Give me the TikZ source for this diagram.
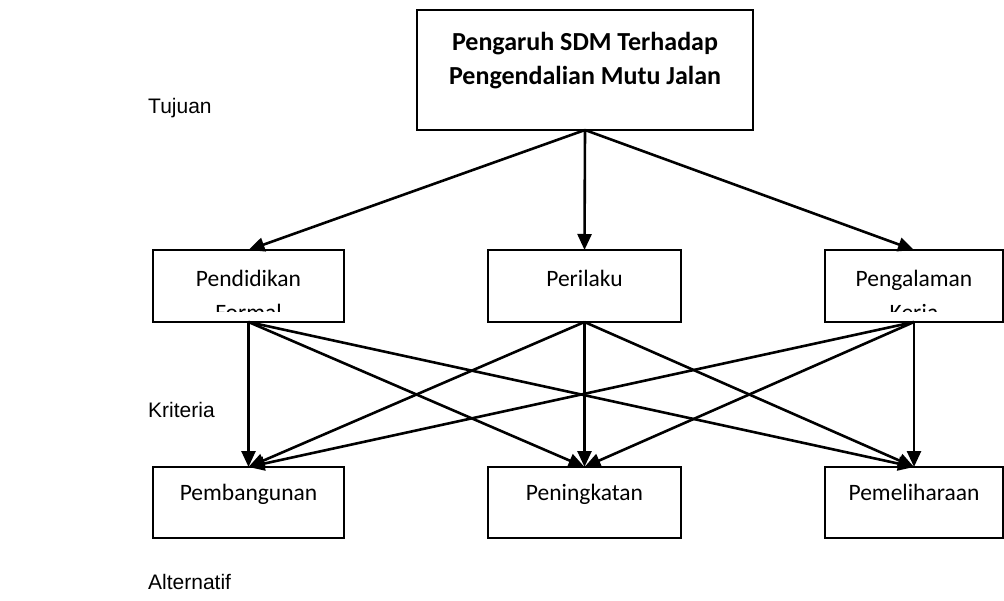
\documentclass[tikz,border=0pt]{standalone}
\usepackage{fontspec}
\setmainfont{Carlito}
\newfontfamily\arialfont{Liberation Sans}
\usetikzlibrary{arrows.meta}
\begin{document}
\begin{tikzpicture}[x=1pt,y=-1pt,
  box/.style={draw,line width=1.8pt,inner sep=0pt,outer sep=0pt,anchor=north west},
  boxtext/.style={font=\fontsize{23.5}{34}\selectfont,inner sep=0pt,align=center},
  arr/.style={line width=2.6pt,-{Triangle[length=16pt,width=14pt]}},
  side/.style={font=\arialfont\fontsize{21}{25}\selectfont,anchor=west,inner sep=0pt}]
\useasboundingbox (0,0) rectangle (1004,601);
% boxes
\node[box,minimum width=336pt,minimum height=120pt] (top) at (417,10) {};
\node[box,minimum width=191pt,minimum height=72pt] (pend) at (153,250) {};
\node[box,minimum width=193pt,minimum height=72pt] (peri) at (488,250) {};
\node[box,minimum width=178pt,minimum height=72pt] (peng) at (825,250) {};
\node[box,minimum width=191pt,minimum height=71pt] (pemb) at (153,467) {};
\node[box,minimum width=193pt,minimum height=71pt] (pent) at (488,467) {};
\node[box,minimum width=178pt,minimum height=71pt] (peme) at (825,467) {};
% texts
\node[boxtext,font=\bfseries\fontsize{26}{34}\selectfont] (toptxt) at (585,61) {Pengaruh SDM Terhadap\\Pengendalian Mutu Jalan};
\begin{scope}
\clip (150,250) rectangle (1004,312);
\node[boxtext,anchor=north] (pendtxt) at (248.5,270) {Pendidikan\\Formal};
\node[boxtext,anchor=north] (pengtxt) at (914,270) {Pengalaman\\Kerja};
\end{scope}
\node[boxtext,anchor=north] (peritxt) at (584.5,270) {Perilaku};
\node[boxtext,anchor=north] (pembtxt) at (248.5,484) {Pembangunan};
\node[boxtext,anchor=north] (pentxt) at (584.5,484) {Peningkatan};
\node[boxtext,anchor=north] (pemetxt) at (914,484) {Pemeliharaan};
% side labels
\node[side] (tujuan) at (148,108) {Tujuan};
\node[side] (kriteria) at (148,410) {Kriteria};
\node[side] (alt) at (148,582) {Alternatif};
% arrows
\draw[arr] (top.south) -- (pend.north);
\draw[arr] (top.south) -- (peri.north);
\draw[arr] (top.south) -- (peng.north);
\foreach \s in {pend,peri,peng}{
  \foreach \t in {pemb,pent,peme}{
    \draw[arr] (\s.south) -- (\t.north);
  }
}
\end{tikzpicture}
\end{document}
